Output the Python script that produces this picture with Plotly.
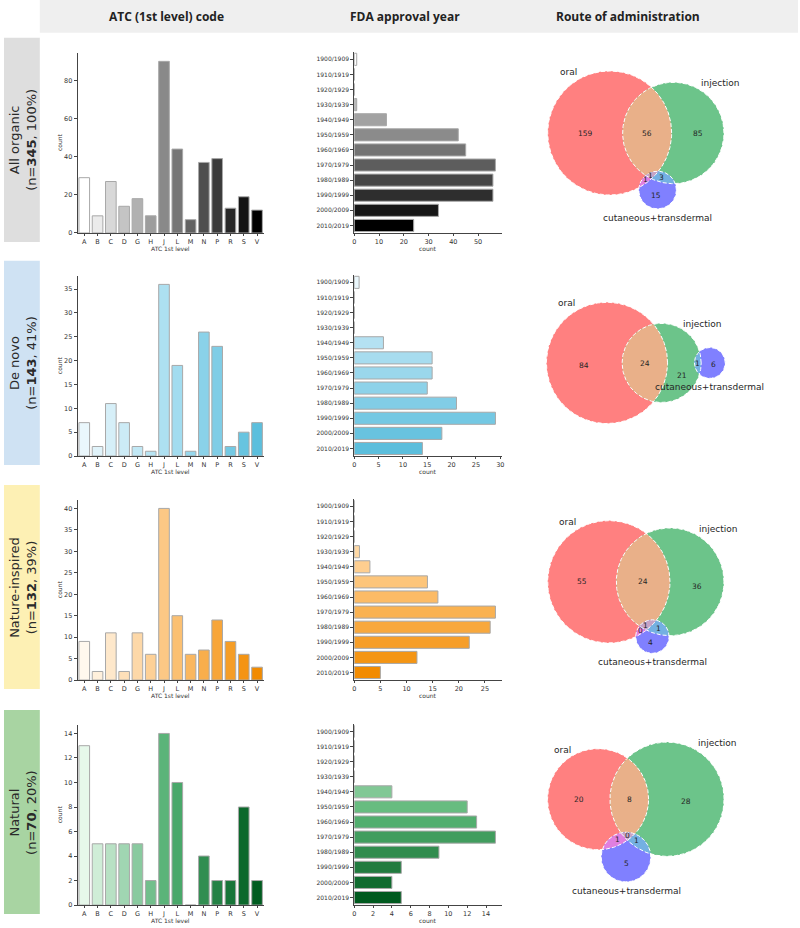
import numpy as np
import plotly.graph_objects as go

# ---------------- data ----------------
ATC_CODES = ["A", "B", "C", "D", "G", "H", "J", "L", "M", "N", "P", "R", "S", "V"]
DECADES = ["1900/1909", "1910/1919", "1920/1929", "1930/1939", "1940/1949", "1950/1959",
           "1960/1969", "1970/1979", "1980/1989", "1990/1999", "2000/2009", "2010/2019"]

ROW_NAMES = ["All organic", "De novo", "Nature-inspired", "Natural"]
ROW_N = [345, 143, 132, 70]
ROW_PCT = [100, 41, 39, 20]

ATC_ALL = [29, 9, 27, 14, 18, 9, 90, 44, 7, 37, 39, 13, 19, 12]
ATC_DENOVO = [7, 2, 11, 7, 2, 1, 36, 19, 1, 26, 23, 2, 5, 7]
ATC_NATINSP = [9, 2, 11, 2, 11, 6, 40, 15, 6, 7, 14, 9, 6, 3]
ATC_NATURAL = [13, 5, 5, 5, 5, 2, 14, 10, 0, 4, 2, 2, 8, 2]

YEAR_ALL = [1, 0, 0, 1, 13, 42, 45, 57, 56, 56, 34, 24]
YEAR_DENOVO = [1, 0, 0, 0, 6, 16, 16, 15, 21, 29, 18, 14]
YEAR_NATINSP = [0, 0, 0, 1, 3, 14, 16, 27, 26, 22, 12, 5]
YEAR_NATURAL = [0, 0, 0, 0, 4, 12, 13, 15, 9, 5, 4, 5]

ROUTE_LABELS = ["oral", "injection", "cutaneous+transdermal"]
# subsets: (oral only, injection only, oral&inj, cut only, oral&cut, inj&cut, all three)
VENN_ALL = [159, 85, 56, 15, 1, 3, 1]
VENN_DENOVO = [84, 21, 24, 6, 0, 1, 0]
VENN_NATINSP = [55, 36, 24, 4, 0, 1, 1]
VENN_NATURAL = [20, 28, 8, 5, 1, 1, 0]

HEADERS = ["ATC (1st level) code", "FDA approval year", "Route of administration"]

ATC_ROWS = [ATC_ALL, ATC_DENOVO, ATC_NATINSP, ATC_NATURAL]
YEAR_ROWS = [YEAR_ALL, YEAR_DENOVO, YEAR_NATINSP, YEAR_NATURAL]
VENN_ROWS = [VENN_ALL, VENN_DENOVO, VENN_NATINSP, VENN_NATURAL]

# ---------------- styles ----------------
W, H = 800, 928
ROW_TOPS = [38, 262, 487, 713]
ROW_H = 205
ROW_BOX_COLORS = ["#dedede", "#cfe2f3", "#fdf0b4", "#a8d4a2"]
ATC_TICKS = [20, 5, 5, 2]
YEAR_TICKS = [10, 5, 5, 2]
ATC_PAL = [["#ffffff", "#000000"],
           ["#eaf7fc", "#a8def0", "#5bbfdd"],
           ["#fff8ee", "#fcc47c", "#f28b00"],
           ["#e6f8ea", "#4fae70", "#005c20"]]
YEAR_PAL = [["#ffffff", "#000000"],
            ["#eaf7fc", "#a0d9ee", "#5bbedc"],
            ["#fff4e2", "#fdc070", "#f28b00"],
            ["#e8f7e8", "#5ab676", "#005a1f"]]
VENN_COLORS = {(1, 0, 0): "#ff8080", (0, 1, 0): "#6cc48a", (0, 0, 1): "#8080ff",
               (1, 1, 0): "#e9b089", (1, 0, 1): "#e07fe0", (0, 1, 1): "#74b0e2",
               (1, 1, 1): "#c6a3c6"}
FONT = "DejaVu Sans"
TXT = "#262626"
AX = "#444444"


def hex2rgb(h):
    h = h.lstrip("#")
    return [int(h[i:i + 2], 16) for i in (0, 2, 4)]


def ramp(stops, n):
    pts = np.linspace(0, len(stops) - 1, n)
    out = []
    for p in pts:
        i = min(int(np.floor(p)), len(stops) - 2)
        t = p - i
        c0, c1 = hex2rgb(stops[i]), hex2rgb(stops[i + 1])
        c = [round(c0[k] + (c1[k] - c0[k]) * t) for k in range(3)]
        out.append("rgb(%d,%d,%d)" % tuple(c))
    return out


def fx(x):
    return x / W


def fy(y):
    return 1 - y / H


# ---------------- venn geometry ----------------
def inter_area(r1, r2, d):
    if d >= r1 + r2:
        return 0.0
    if d <= abs(r1 - r2):
        return np.pi * min(r1, r2) ** 2
    a1 = r1 * r1 * np.arccos((d * d + r1 * r1 - r2 * r2) / (2 * d * r1))
    a2 = r2 * r2 * np.arccos((d * d + r2 * r2 - r1 * r1) / (2 * d * r2))
    a3 = 0.5 * np.sqrt((-d + r1 + r2) * (d + r1 - r2) * (d - r1 + r2) * (d + r1 + r2))
    return a1 + a2 - a3


def dist_for_area(r1, r2, area):
    if area <= 1e-10:
        return r1 + r2
    lo, hi = abs(r1 - r2), r1 + r2
    for _ in range(100):
        mid = (lo + hi) / 2
        if inter_area(r1, r2, mid) > area:
            lo = mid
        else:
            hi = mid
    return (lo + hi) / 2


def venn_layout(sub):
    Abc, aBc, ABc, abC, AbC, aBC, ABC = [float(v) for v in sub]
    tot = float(sum(sub))
    a = np.array([Abc + ABc + AbC + ABC, aBc + ABc + aBC + ABC, abC + AbC + aBC + ABC]) / tot
    A_ab, A_bc, A_ac = (ABc + ABC) / tot, (aBC + ABC) / tot, (AbC + ABC) / tot
    r = np.sqrt(a / np.pi)
    d_ab = dist_for_area(r[0], r[1], A_ab)
    d_bc = dist_for_area(r[1], r[2], A_bc)
    d_ac = dist_for_area(r[0], r[2], A_ac)
    if A_ac > 1e-10 and A_ab > 1e-10 and A_bc > 1e-10:
        dists = [d_ab, d_bc, d_ac]
        for i in range(3):
            j, k = (i + 1) % 3, (i + 2) % 3
            if dists[i] > dists[j] + dists[k]:
                lo_, hi_ = (j, k) if dists[j] < dists[k] else (k, j)
                dists[i] = dists[hi_] + dists[lo_] * 0.8
        d_ab, d_bc, d_ac = dists
        cx = (d_ac ** 2 - d_bc ** 2 + d_ab ** 2) / (2 * d_ab)
        cy = -np.sqrt(max(d_ac ** 2 - cx ** 2, 0))
        coords = np.array([[0, 0], [d_ab, 0], [cx, cy]], float)
    else:
        coords = np.array([[0, 0], [d_ab, 0], [d_ab + d_bc, 0]], float)
        if coords[0, 0] + r[0] > coords[2, 0] - r[2]:
            mid = (coords[0, 0] + r[0] + coords[2, 0] - r[2]) / 2
            coords[0, 0] = mid - r[0] - 1e-5
            coords[2, 0] = mid + r[2] + 1e-5
    w = r ** 2
    coords = coords - (w @ coords) / w.sum()
    return coords, r


def circle_pts(c, r, n=2000):
    t = np.linspace(0, 2 * np.pi, n, endpoint=False)
    return np.c_[c[0] + r * np.cos(t), c[1] + r * np.sin(t)]


def region_polygon(coords, r, members):
    pts = []
    for i in members:
        p = circle_pts(coords[i], r[i])
        ok = np.ones(len(p), bool)
        for j in members:
            if j != i:
                ok &= np.hypot(p[:, 0] - coords[j][0], p[:, 1] - coords[j][1]) <= r[j]
        pts.append(p[ok])
    pts = np.vstack(pts)
    if len(pts) < 3:
        return None
    m = pts.mean(0)
    order = np.argsort(np.arctan2(pts[:, 1] - m[1], pts[:, 0] - m[0]))
    pts = pts[order]
    return np.vstack([pts, pts[:1]])


# ---------------- figure ----------------
fig = go.Figure()
layout = dict(width=W, height=H, margin=dict(l=0, r=0, t=0, b=0),
              paper_bgcolor="white", plot_bgcolor="white", showlegend=False,
              font=dict(family=FONT, color=TXT))
shapes, annotations = [], []

# header band
shapes.append(dict(type="rect", xref="paper", yref="paper", x0=fx(38), x1=fx(800),
                   y0=fy(33), y1=fy(0), fillcolor="#efefef", line=dict(width=0), layer="below"))
for txt, xc in zip(HEADERS, [165, 405, 629]):
    annotations.append(dict(xref="paper", yref="paper", x=fx(xc), y=fy(17), text="<b>%s</b>" % txt,
                            showarrow=False, xanchor="center", yanchor="middle",
                            font=dict(family="Open Sans", size=12, color="#222")))


def axname(idx, kind):
    return kind + ("" if idx == 1 else str(idx))


tick_font = dict(family=FONT, size=6.5, color="#333")
title_font = dict(family=FONT, size=6, color="#333")


def paper_label(x, y, text, angle=0):
    annotations.append(dict(xref="paper", yref="paper", x=fx(x), y=fy(y), text=text,
                            textangle=angle, showarrow=False, xanchor="center",
                            yanchor="middle", borderpad=0, font=title_font))


for i in range(4):
    top = ROW_TOPS[i]
    bottom = top + 196
    # row label box
    shapes.append(dict(type="rect", xref="paper", yref="paper", x0=fx(2), x1=fx(38),
                       y0=fy(top + ROW_H), y1=fy(top), fillcolor=ROW_BOX_COLORS[i],
                       line=dict(width=0), layer="below"))
    annotations.append(dict(xref="paper", yref="paper", x=fx(21), y=fy(top + ROW_H / 2),
                            text="%s<br>(n=<b>%d</b>, %d%%)" % (ROW_NAMES[i], ROW_N[i], ROW_PCT[i]),
                            textangle=-90, showarrow=False, xanchor="center", yanchor="middle",
                            font=dict(family=FONT, size=13, color="#2a2a2a")))

    # --- ATC bar chart ---
    idx = 3 * i + 1
    xa, ya = axname(idx, "xaxis"), axname(idx, "yaxis")
    xr, yr = axname(idx, "x"), axname(idx, "y")
    vals = ATC_ROWS[i]
    fig.add_trace(go.Bar(x=ATC_CODES, y=vals, width=0.8, xaxis=xr, yaxis=yr, hoverinfo="skip",
                         marker=dict(color=ramp(ATC_PAL[i], len(ATC_CODES)),
                                     line=dict(color="#a8a8a8", width=1))))
    layout[xa] = dict(domain=[fx(76), fx(263)], anchor=yr, type="category",
                      categoryorder="array", categoryarray=ATC_CODES, range=[-0.5, 13.5],
                      showline=True, linecolor=AX, linewidth=1, ticks="outside", ticklen=2,
                      tickcolor=AX, tickfont=tick_font, showgrid=False, zeroline=False)
    layout[ya] = dict(domain=[fy(bottom), fy(top + 15)], anchor=xr,
                      range=[0, max(vals) * 1.05], dtick=ATC_TICKS[i],
                      showline=True, linecolor=AX, linewidth=1, ticks="outside", ticklen=3,
                      tickcolor=AX, tickfont=tick_font, showgrid=False, zeroline=False)
    paper_label(169, bottom + 15.5, "ATC 1st level")
    paper_label(58, top + 105, "count", -90)

    # --- year bar chart ---
    idx = 3 * i + 2
    xa, ya = axname(idx, "xaxis"), axname(idx, "yaxis")
    xr, yr = axname(idx, "x"), axname(idx, "y")
    vals = YEAR_ROWS[i]
    fig.add_trace(go.Bar(y=DECADES, x=vals, orientation="h", width=0.8, xaxis=xr, yaxis=yr,
                         hoverinfo="skip",
                         marker=dict(color=ramp(YEAR_PAL[i], len(DECADES)),
                                     line=dict(color="#a8a8a8", width=1))))
    layout[xa] = dict(domain=[fx(354), fx(503)], anchor=yr, range=[0, max(vals) * 1.05],
                      dtick=YEAR_TICKS[i], showline=True, linecolor=AX, linewidth=1,
                      ticks="outside", ticklen=2, tickcolor=AX, tickfont=tick_font,
                      showgrid=False, zeroline=False)
    layout[ya] = dict(domain=[fy(bottom), fy(top + 14)], anchor=xr, type="category",
                      categoryorder="array", categoryarray=DECADES,
                      range=[len(DECADES) - 0.5, -0.5], showline=True, linecolor=AX,
                      linewidth=1, ticks="outside", ticklen=3, tickcolor=AX,
                      tickfont=dict(family=FONT, size=6, color="#333"), showgrid=False,
                      zeroline=False)
    paper_label(428, bottom + 15.5, "count")

    # --- venn ---
    idx = 3 * i + 3
    xa, ya = axname(idx, "xaxis"), axname(idx, "yaxis")
    xr, yr = axname(idx, "x"), axname(idx, "y")
    coords, rad = venn_layout(VENN_ROWS[i])
    minx = min(coords[k][0] - rad[k] for k in range(3))
    maxx = max(coords[k][0] + rad[k] for k in range(3))
    miny = min(coords[k][1] - rad[k] for k in range(3))
    maxy = max(coords[k][1] + rad[k] for k in range(3))
    VW, VH = 204.0, float(ROW_H)
    scale = min(VW / (maxx - minx + 0.2), VH / (maxy - miny + 0.2))
    bcx, bcy = (minx + maxx) / 2, (miny + maxy) / 2
    layout[xa] = dict(domain=[fx(535), fx(535 + VW)], anchor=yr, visible=False,
                      range=[bcx - VW / 2 / scale, bcx + VW / 2 / scale])
    layout[ya] = dict(domain=[fy(top + ROW_H), fy(top)], anchor=xr, visible=False,
                      range=[bcy - VH / 2 / scale, bcy + VH / 2 / scale])

    # fills: single circles then overlaps
    for members, key in [((0,), (1, 0, 0)), ((1,), (0, 1, 0)), ((2,), (0, 0, 1)),
                         ((0, 1), (1, 1, 0)), ((0, 2), (1, 0, 1)), ((1, 2), (0, 1, 1)),
                         ((0, 1, 2), (1, 1, 1))]:
        poly = region_polygon(coords, rad, members)
        if poly is None:
            continue
        fig.add_trace(go.Scatter(x=poly[:, 0], y=poly[:, 1], mode="lines", fill="toself",
                                 fillcolor=VENN_COLORS[key], line=dict(width=0),
                                 xaxis=xr, yaxis=yr, hoverinfo="skip"))
    for k in range(3):
        p = circle_pts(coords[k], rad[k], 400)
        p = np.vstack([p, p[:1]])
        fig.add_trace(go.Scatter(x=p[:, 0], y=p[:, 1], mode="lines",
                                 line=dict(color="white", width=1, dash="4px,2px"),
                                 xaxis=xr, yaxis=yr, hoverinfo="skip"))

    # region labels at the most interior point of each region
    gx = np.linspace(minx, maxx, 500)
    gy = np.linspace(miny, maxy, 500)
    GX, GY = np.meshgrid(gx, gy)
    dd = [np.hypot(GX - coords[k][0], GY - coords[k][1]) for k in range(3)]
    inside = [dd[k] <= rad[k] for k in range(3)]
    bdist = np.minimum(np.minimum(abs(dd[0] - rad[0]), abs(dd[1] - rad[1])), abs(dd[2] - rad[2]))
    memberships = [(1, 0, 0), (0, 1, 0), (1, 1, 0), (0, 0, 1), (1, 0, 1), (0, 1, 1), (1, 1, 1)]
    for val, mem in zip(VENN_ROWS[i], memberships):
        mask = np.ones_like(GX, bool)
        for k in range(3):
            mask &= inside[k] if mem[k] else ~inside[k]
        if not mask.any():
            continue
        score = np.where(mask, bdist, -1)
        j = np.unravel_index(np.argmax(score), score.shape)
        annotations.append(dict(xref=xr, yref=yr, x=GX[j], y=GY[j], text=str(val),
                                showarrow=False, xanchor="center", yanchor="middle",
                                borderpad=0, font=dict(family=FONT, size=7.5, color=TXT)))

    # set labels
    annotations.append(dict(xref=xr, yref=yr, x=coords[0][0] - rad[0] / 2, y=coords[0][1] + rad[0],
                            text=ROUTE_LABELS[0], showarrow=False, xanchor="right",
                            yanchor="bottom", yshift=-8, font=dict(family=FONT, size=9, color=TXT)))
    annotations.append(dict(xref=xr, yref=yr, x=coords[1][0] + rad[1] / 2, y=coords[1][1] + rad[1],
                            text=ROUTE_LABELS[1], showarrow=False, xanchor="left",
                            yanchor="bottom", yshift=-8, font=dict(family=FONT, size=9, color=TXT)))
    annotations.append(dict(xref=xr, yref=yr, x=coords[2][0], y=coords[2][1] - rad[2] * 1.1,
                            text=ROUTE_LABELS[2], showarrow=False, xanchor="center",
                            yanchor="top", font=dict(family=FONT, size=9, color=TXT)))

layout["shapes"] = shapes
layout["annotations"] = annotations
fig.update_layout(**layout)
fig.write_html("out.html", config={"displayModeBar": False},
               post_script="document.body.style.margin='0px';document.body.style.padding='0px';")
